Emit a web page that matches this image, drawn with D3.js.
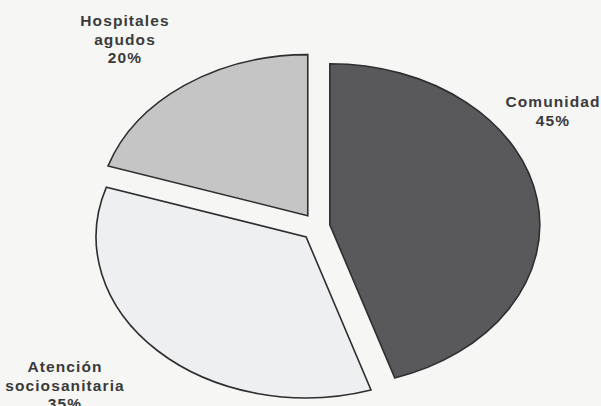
<!DOCTYPE html>
<html>
<head>
<meta charset="utf-8">
<script src="https://cdn.jsdelivr.net/npm/d3@7"></script>
<style>
  html, body { margin: 0; padding: 0; background: #f6f6f4; }
  svg { display: block; }
</style>
</head>
<body>
<svg id="chart"></svg>
<script>
// data
const categories = ['Comunidad', 'Atención sociosanitaria', 'Hospitales agudos']
const values = [45, 35, 20]
const labelLines = [
  ['Comunidad', '45%'],
  ['Atención', 'sociosanitaria', '35%'],
  ['Hospitales', 'agudos', '20%'],
]
const fills = ['#59585b', '#eeeff1', '#c5c5c6']

const width = 601
const height = 406

// pie is drawn squashed into an ellipse
const cx = 316
const cy = 227
const ry = 161
const rx = 210
const explode = 14

// label anchor points (centre of the first line)
const labelPos = [
  [553, 107],
  [65, 372],
  [125, 26],
]
const lineHeight = 18.5

const svg = d3.select('#chart').attr('width', width).attr('height', height)

svg
  .append('rect')
  .attr('width', width)
  .attr('height', height)
  .attr('fill', '#f6f6f4')

const pie = d3.pie().sort(null).value((d) => d)
const arcs = pie(values)

const arc = d3.arc().innerRadius(0).outerRadius(ry)

const viz = svg.append('g').attr('id', 'viz')

viz
  .selectAll('g.slice')
  .data(arcs)
  .join('g')
  .attr('class', 'slice')
  .attr('transform', (d) => {
    const mid = (d.startAngle + d.endAngle) / 2
    const ox = Math.sin(mid) * explode
    const oy = -Math.cos(mid) * explode
    return `translate(${cx + ox},${cy + oy}) scale(${rx / ry},1)`
  })
  .append('path')
  .attr('d', arc)
  .attr('fill', (d, i) => fills[i])
  .attr('stroke', '#2e2e30')
  .attr('stroke-width', 1.6)
  .attr('stroke-linejoin', 'miter')
  .attr('vector-effect', 'non-scaling-stroke')

// labels
const labels = svg
  .append('g')
  .attr('id', 'labels')
  .attr('font-family', 'Liberation Sans, Arial, Helvetica, sans-serif')
  .attr('font-weight', 'bold')
  .attr('font-size', 15.5)
  .attr('letter-spacing', 1.1)
  .attr('fill', '#3a3a3c')
  .attr('text-anchor', 'middle')

labels
  .selectAll('text')
  .data(categories)
  .join('text')
  .attr('x', (d, i) => labelPos[i][0])
  .attr('y', (d, i) => labelPos[i][1])
  .selectAll('tspan')
  .data((d, i) => labelLines[i].map((t) => ({ t, x: labelPos[i][0] })))
  .join('tspan')
  .attr('x', (d) => d.x)
  .attr('dy', (d, j) => (j === 0 ? 0 : lineHeight))
  .text((d) => d.t)
</script>
</body>
</html>
